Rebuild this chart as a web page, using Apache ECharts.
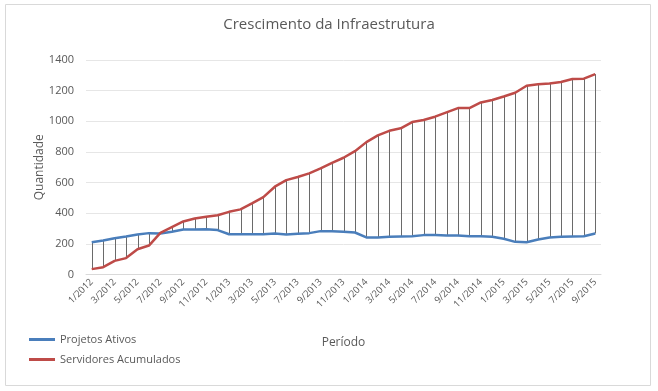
<!DOCTYPE html>
<html>
<head>
<meta charset="utf-8">
<script src="https://cdn.jsdelivr.net/npm/echarts@6/dist/echarts.min.js"></script>
<style>html,body{margin:0;padding:0;background:#fff;}#c{width:658px;height:391px;}</style>
</head>
<body>
<div id="c"></div>
<script>
var categories = ['1/2012','2/2012','3/2012','4/2012','5/2012','6/2012','7/2012','8/2012','9/2012','10/2012','11/2012','12/2012',
'1/2013','2/2013','3/2013','4/2013','5/2013','6/2013','7/2013','8/2013','9/2013','10/2013','11/2013','12/2013',
'1/2014','2/2014','3/2014','4/2014','5/2014','6/2014','7/2014','8/2014','9/2014','10/2014','11/2014','12/2014',
'1/2015','2/2015','3/2015','4/2015','5/2015','6/2015','7/2015','8/2015','9/2015'];
var projetosAtivos = [211,222,237,248,261,270,268,279,294,294,296,290,263,263,263,263,268,261,266,270,283,283,279,274,242,242,246,248,250,257,257,255,255,250,250,246,233,213,211,229,242,246,248,250,268];
var servidoresAcumulados = [35,48,89,107,165,189,272,309,346,366,377,387,409,425,464,505,573,616,636,660,692,729,762,805,864,908,938,954,995,1008,1030,1058,1086,1086,1123,1139,1162,1186,1232,1241,1247,1256,1276,1278,1308];

var dropData = categories.map(function(c, i){ return [i, projetosAtivos[i], servidoresAcumulados[i]]; });
var font = 'Open Sans';
var chart = echarts.init(document.getElementById('c'));
chart.setOption({
  animation: false,
  title: {text: 'Crescimento da Infraestrutura', left: 'center', top: 12,
    textStyle: {fontFamily: font, fontSize: 15, fontWeight: 'normal', color: '#595959'}},
  grid: {left: 86, right: 57, top: 60, bottom: 116.5},
  legend: {orient: 'vertical', left: 24, top: 329, itemWidth: 26, itemHeight: 3, itemGap: 9,
    icon: 'rect', data: ['Projetos Ativos', 'Servidores Acumulados'],
    textStyle: {fontFamily: font, fontSize: 11, color: '#595959'}},
  xAxis: {type: 'category', data: categories, boundaryGap: true,
    name: 'Período', nameLocation: 'middle', nameGap: 62,
    nameTextStyle: {fontFamily: font, fontSize: 12, color: '#595959'},
    axisLine: {lineStyle: {color: '#d9d9d9'}}, axisTick: {show: false},
    axisLabel: {interval: 1, rotate: 45, fontFamily: font, fontSize: 9.5, color: '#595959', margin: 6}},
  yAxis: {type: 'value', min: 0, max: 1400, interval: 200,
    name: 'Quantidade', nameLocation: 'middle', nameGap: 40, nameRotate: 90, nameMoveOverlap: false,
    nameTextStyle: {fontFamily: font, fontSize: 12, color: '#595959'},
    axisLine: {show: false}, axisTick: {show: false},
    axisLabel: {fontFamily: font, fontSize: 11, color: '#595959', margin: 12,
      formatter: function(v){ return String(v); }},
    splitLine: {lineStyle: {color: '#e6e6e6'}}},
  graphic: [{type: 'rect', shape: {x: 5.5, y: 4.5, width: 645, height: 381},
    style: {fill: 'none', stroke: '#d9d9d9', lineWidth: 1}, silent: true, z: -1}],
  series: [
    {type: 'custom', name: 'drop', data: dropData, z: 1,
      renderItem: function(params, api){
        var p1 = api.coord([api.value(0), api.value(1)]);
        var p2 = api.coord([api.value(0), api.value(2)]);
        return {type: 'line', shape: {x1: Math.round(p1[0])+0.5, y1: p1[1], x2: Math.round(p2[0])+0.5, y2: p2[1]},
          style: {stroke: '#6a6a6a', lineWidth: 1}};
      }},
    {type: 'line', name: 'Projetos Ativos', data: projetosAtivos, symbol: 'none', z: 3,
      lineStyle: {color: '#4a7ebb', width: 2.5}, itemStyle: {color: '#4a7ebb'}},
    {type: 'line', name: 'Servidores Acumulados', data: servidoresAcumulados, symbol: 'none', z: 3,
      lineStyle: {color: '#be4b48', width: 2.5}, itemStyle: {color: '#be4b48'}}
  ]
});
</script>
</body>
</html>
